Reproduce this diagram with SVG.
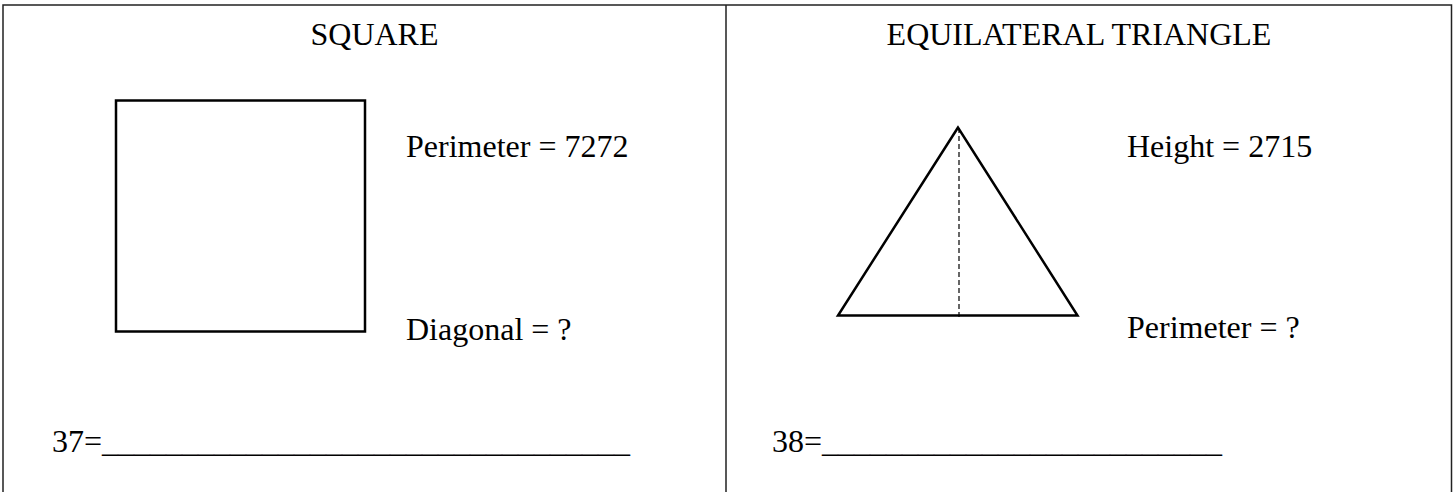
<svg xmlns="http://www.w3.org/2000/svg" width="1455" height="492" viewBox="0 0 1455 492">
<style>
text { font-family: "Liberation Serif", "Times New Roman", serif; font-size: 32px; fill: #000; }
.frame { fill: none; stroke: #222; stroke-width: 1.5; }
.shape { fill: none; stroke: #000; stroke-width: 2.5; }
.dash { fill: none; stroke: #000; stroke-width: 1.2; stroke-dasharray: 5 3; }
</style>
<rect width="1455" height="492" fill="#fff"/>
<g id="frame">
<path class="frame" d="M3,492 V5 H1451.5 V492 M726,5 V492"/>
</g>
<g id="square-panel">
<text x="374.5" y="45" text-anchor="middle">SQUARE</text>
<rect id="square" class="shape" x="116" y="100.5" width="249" height="231"/>
<text x="406" y="157">Perimeter = 7272</text>
<text x="406" y="340">Diagonal = ?</text>
<text x="52" y="452">37=_________________________________</text>
</g>
<g id="triangle-panel">
<text x="1079" y="45" text-anchor="middle">EQUILATERAL TRIANGLE</text>
<polygon id="triangle" class="shape" points="958,127.5 838,315.5 1077.5,315.5"/>
<line class="dash" x1="959" y1="128" x2="959" y2="318"/>
<text x="1127" y="157">Height = 2715</text>
<text x="1127" y="338">Perimeter = ?</text>
<text x="772" y="452">38=_________________________</text>
</g>
</svg>
